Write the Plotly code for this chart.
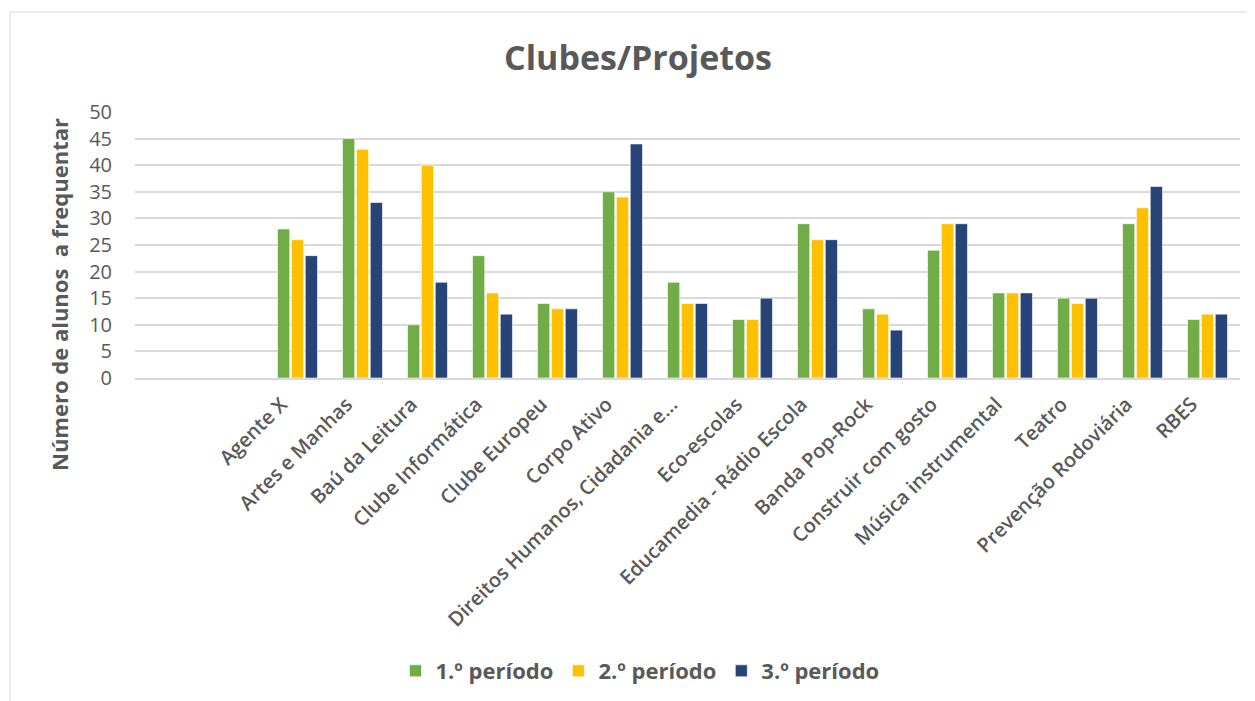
import plotly.graph_objects as go

categorias = [" ", "  ", "Agente X", "Artes e Manhas", "Baú da Leitura", "Clube Informática",
              "Clube Europeu", "Corpo Ativo", "Direitos Humanos, Cidadania e...", "Eco-escolas",
              "Educamedia - Rádio Escola", "Banda Pop-Rock", "Construir com gosto",
              "Música instrumental", "Teatro", "Prevenção Rodoviária", "RBES"]
periodo_1 = [None, None, 28, 45, 10, 23, 14, 35, 18, 11, 29, 13, 24, 16, 15, 29, 11]
periodo_2 = [None, None, 26, 43, 40, 16, 13, 34, 14, 11, 26, 12, 29, 16, 14, 32, 12]
periodo_3 = [None, None, 23, 33, 18, 12, 13, 44, 14, 15, 26, 9, 29, 16, 15, 36, 12]
nomes = ["1.º período", "2.º período", "3.º período"]
cores = ["#70AD47", "#FFC000", "#264478"]

cinza = "#595959"
# a página desloca tudo 8px; as margens compensam
L, T, W, H = 127, 104, 1105, 266

fig = go.Figure()
for nome, valores, cor in zip(nomes, [periodo_1, periodo_2, periodo_3], cores):
    fig.add_trace(go.Bar(x=categorias, y=valores, name="<b>" + nome + "</b>",
                         marker=dict(color=cor, line=dict(color="white", width=0.6))))

fig.update_layout(
    width=1255, height=701,
    barmode="group", bargap=0.36, bargroupgap=0.12,
    plot_bgcolor="white", paper_bgcolor="white",
    margin=dict(l=L, r=1255 - L - W, t=T, b=701 - T - H, autoexpand=False),
    title=dict(text="<b>Clubes/Projetos</b>", x=(638 - 8) / 1255, xanchor="center",
               y=1 - 50 / 701, yanchor="middle",
               font=dict(family="Open Sans", size=34, color=cinza)),
    font=dict(family="Open Sans", color=cinza),
    legend=dict(orientation="h", x=(640 - 8 - L) / W, xanchor="center", y=-(663 - T - H) / H,
                yanchor="middle", font=dict(size=22, color=cinza), itemwidth=30,
                traceorder="normal"),
    xaxis=dict(tickangle=-45, tickfont=dict(size=20, color=cinza, weight=600), automargin=False,
               showgrid=False, showline=True, linecolor="#D9D9D9", linewidth=1.5, ticks="",
               ticklabelshift=-16, ticklabelstandoff=5),
    yaxis=dict(range=[0, 50], dtick=5, tickfont=dict(size=20, color=cinza), automargin=False,
               gridcolor="#D9D9D9", gridwidth=1.5, zeroline=False, ticks="", ticklabelstandoff=22),
)

fig.add_annotation(text="<b>Número de alunos  a frequentar</b>", textangle=-90,
                   xref="paper", yref="paper", x=(51 - L) / W, y=(T + H - 287) / H,
                   xanchor="center", yanchor="middle", showarrow=False,
                   font=dict(size=22, color=cinza))

fig.add_shape(type="rect", xref="paper", yref="paper",
              x0=(2 - L) / W, x1=(1242 - L) / W, y0=-(701 - T - H) / H - 0.1, y1=1 + (T - 4) / H,
              line=dict(color="#D9D9D9", width=1), fillcolor="rgba(0,0,0,0)", layer="below")

fig.write_html("out.html")
